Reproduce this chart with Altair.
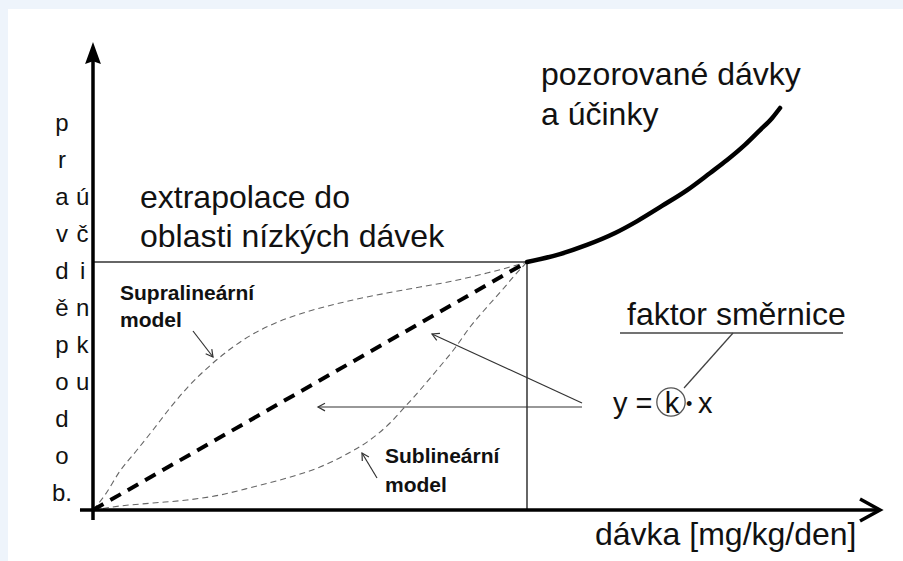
import math
import altair as alt
import pandas as pd

# Schematic dose-response diagram: low-dose extrapolation models.
# Units are arbitrary dose / effect units; the extrapolation point is (10, 10).

X_DOMAIN = [-1.9585, 18.6636]
Y_DOMAIN = [-2.0565, 20.2016]
W, H = 895, 552
PX_X = W / (X_DOMAIN[1] - X_DOMAIN[0])
PX_Y = H / (Y_DOMAIN[1] - Y_DOMAIN[0])

FONT = "Liberation Sans"

# observed doses and effects (high-dose region)
obs_x = [10.0, 10.76, 11.38, 12.03, 12.54, 13.11, 13.69, 14.22, 14.61, 15.02, 15.37, 15.65, 15.83]
obs_y = [10.0, 10.32, 10.69, 11.17, 11.65, 12.26, 12.90, 13.59, 14.11, 14.72, 15.32, 15.81, 16.21]

# linear extrapolation y = k * x
lin_x = [0.0, 10.0]
lin_y = [0.0, 10.0]

# supralinear model
sup_x = [0.0, 0.276, 0.622, 1.014, 1.382, 1.774, 2.166, 2.765, 3.226, 3.687, 4.263,
         4.839, 5.415, 5.991, 6.774, 7.535, 8.295, 9.078, 9.608, 10.0]
sup_y = [0.0, 0.605, 1.573, 2.419, 3.226, 4.113, 4.919, 5.927, 6.573, 7.097, 7.581,
         7.944, 8.226, 8.468, 8.750, 8.992, 9.234, 9.556, 9.798, 10.0]

# sublinear model
sub_x = [0.0, 0.622, 1.382, 2.166, 2.926, 3.687, 4.470, 5.230, 5.806, 6.382, 6.843,
         7.143, 7.535, 7.926, 8.341, 8.687, 9.078, 9.447, 9.724, 10.0]
sub_y = [0.0, 0.161, 0.282, 0.403, 0.605, 0.927, 1.290, 1.734, 2.218, 2.823, 3.508,
         4.073, 4.839, 5.645, 6.532, 7.379, 8.185, 8.911, 9.476, 10.0]

# guide lines to the extrapolation point
guide_segs = [(0.0, 10.0, 10.0, 10.0), (10.0, 0.0, 10.0, 10.0)]

# axes (shafts) and arrow tips
axis_segs = [(-0.30, 0.0, 18.09, 0.0), (0.0, -0.403, 0.0, 18.31)]
x_tip = (18.134, 0.0)
y_tip = (0.0, 18.43)

# pointer arrows (from, to)
pointer_segs = [
    (2.304, 7.218, 2.765, 6.169),
    (6.544, 1.290, 6.198, 2.298),
    (11.267, 4.315, 7.811, 7.097),
    (11.267, 4.153, 5.184, 4.153),
]
# underline of "faktor směrnice" and its leader to the circled k
plain_segs = [
    (12.143, 7.137, 17.281, 7.137),
    (14.747, 7.137, 13.618, 4.919),
]
k_circle = (13.318, 4.355)

# text labels
big_text = ["pozorované dávky", "a účinky", "extrapolace do", "oblasti nízkých dávek",
            "faktor směrnice", "dávka [mg/kg/den]"]
big_x = [10.323, 10.323, 1.083, 1.083, 12.304, 11.567]
big_y = [17.137, 15.524, 12.177, 10.605, 7.460, -1.411]

model_text = ["Supralineární", "model", "Sublineární", "model"]
model_x = [0.622, 0.622, 6.728, 6.728]
model_y = [8.468, 7.379, 1.895, 0.726]

formula_text = ["y =", "x"]
formula_x = [11.982, 13.940]
formula_y = [3.911, 3.911]
k_text = ["k"]
k_x = [13.341]
k_y = [3.911]
dot_text = ["•"]
dot_x = [13.664]
dot_y = [4.03]

# vertical y-axis caption, one letter per line
ylab1 = ["p", "r", "a", "v", "d", "ě", "p", "o", "d", "o", "b."]
ylab_rows = [15.282, 13.790, 12.298, 10.806, 9.315, 7.823, 6.331, 4.839, 3.347, 1.855, 0.363]
ylab1_x = -0.714
ylab2 = ["ú", "č", "i", "n", "k", "u"]
ylab2_x = -0.240

XS = alt.Scale(domain=X_DOMAIN, nice=False, zero=False)
YS = alt.Scale(domain=Y_DOMAIN, nice=False, zero=False)


def enc_xy():
    return dict(x=alt.X("x:Q", scale=XS, axis=None), y=alt.Y("y:Q", scale=YS, axis=None))


def line_layer(xs, ys, **mark):
    df = pd.DataFrame({"i": list(range(len(xs))), "x": xs, "y": ys})
    return alt.Chart(df).mark_line(**mark).encode(order="i:Q", **enc_xy())


def seg_layer(segs, **mark):
    df = pd.DataFrame(segs, columns=["x", "y", "x2", "y2"])
    return alt.Chart(df).mark_rule(**mark).encode(x2="x2:Q", y2="y2:Q", **enc_xy())


def text_layer(texts, xs, ys, **mark):
    df = pd.DataFrame({"t": texts, "x": xs, "y": ys})
    return alt.Chart(df).mark_text(font=FONT, baseline="alphabetic", color="#111", **mark).encode(
        text="t:N", **enc_xy())


def screen_angle(x1, y1, x2, y2):
    dx = (x2 - x1) * PX_X
    dy = -(y2 - y1) * PX_Y
    return math.degrees(math.atan2(dy, dx)) % 360


CHEVRON = "M-1,-0.55L0,0L-1,0.55"
TRIANGLE_UP = "M0,-1L0.72,1L0,0.75L-0.72,1Z"

head_df = pd.DataFrame({
    "x": [s[2] for s in pointer_segs],
    "y": [s[3] for s in pointer_segs],
    "angle": [screen_angle(*s) for s in pointer_segs],
})

layers = [
    seg_layer(guide_segs, color="#333", strokeWidth=1.5),
    line_layer(sup_x, sup_y, color="#666", strokeWidth=1.1, strokeDash=[6, 4], interpolate="monotone"),
    line_layer(sub_x, sub_y, color="#666", strokeWidth=1.1, strokeDash=[6, 4], interpolate="monotone"),
    line_layer(lin_x, lin_y, color="#000", strokeWidth=4, strokeDash=[12, 8]),
    line_layer(obs_x, obs_y, color="#000", strokeWidth=4.5, interpolate="monotone", strokeCap="round"),
    seg_layer(axis_segs, color="#000", strokeWidth=3.5),
    alt.Chart(pd.DataFrame({"x": [x_tip[0]], "y": [x_tip[1]], "angle": [0]})).mark_point(
        shape=CHEVRON, size=1600, filled=False, color="#000", strokeWidth=3.5, opacity=1,
        strokeJoin="miter").encode(angle=alt.Angle("angle:Q", scale=None), **enc_xy()),
    alt.Chart(pd.DataFrame({"x": [y_tip[0]], "y": [y_tip[1]]})).mark_point(
        shape=TRIANGLE_UP, size=484, filled=True, color="#000", opacity=1).encode(**enc_xy()),
    seg_layer(pointer_segs, color="#333", strokeWidth=1.2),
    alt.Chart(head_df).mark_point(
        shape=CHEVRON, size=196, filled=False, color="#333", strokeWidth=1.2, opacity=1
    ).encode(angle=alt.Angle("angle:Q", scale=None), **enc_xy()),
    seg_layer(plain_segs, color="#444", strokeWidth=1.3),
    alt.Chart(pd.DataFrame({"x": [k_circle[0]], "y": [k_circle[1]]})).mark_point(
        shape="circle", size=804, filled=False, color="#555", strokeWidth=1.3, opacity=1
    ).encode(**enc_xy()),
    text_layer(big_text, big_x, big_y, fontSize=32, align="left"),
    text_layer(model_text, model_x, model_y, fontSize=21, fontWeight="bold", align="left"),
    text_layer(formula_text, formula_x, formula_y, fontSize=29, align="left"),
    text_layer(k_text, k_x, k_y, fontSize=29, align="center"),
    text_layer(dot_text, dot_x, dot_y, fontSize=18, align="left"),
    text_layer(ylab1, [ylab1_x] * len(ylab1), ylab_rows, fontSize=24, align="center"),
    text_layer(ylab2, [ylab2_x] * len(ylab2), ylab_rows[2:8], fontSize=24, align="center"),
]

chart = alt.layer(*layers).properties(
    width=W,
    height=H,
    padding={"left": 8, "top": 9, "right": 0, "bottom": 0},
    autosize=alt.AutoSizeParams(type="none"),
    background="#eef4fb",
).configure_view(stroke=None, fill="white")

chart.save("out.html", embed_options={"renderer": "svg", "actions": False})
